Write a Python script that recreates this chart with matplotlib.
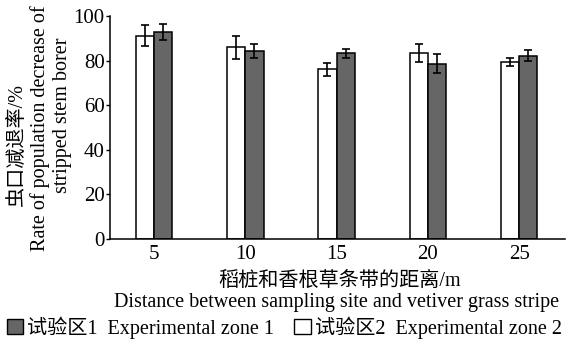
import numpy as np
import matplotlib.pyplot as plt
from matplotlib.patches import Patch

plt.rcParams['font.family'] = ['Liberation Serif', 'Noto Sans CJK SC']
plt.rcParams['font.size'] = 14.5

distances = ['5', '10', '15', '20', '25']
zone1 = [92.8, 84.4, 83.3, 78.7, 82.2]
zone1_err = [3.6, 3.3, 1.9, 4.2, 2.4]
zone2 = [91.2, 86.0, 76.1, 83.3, 79.4]
zone2_err = [4.6, 5.3, 2.9, 4.0, 1.8]

x = np.arange(len(distances))
w = 0.2

fig = plt.figure(figsize=(5.71, 3.43), dpi=100)
ax = fig.add_axes([0.193, 0.303, 0.796, 0.65])

err_kw = dict(ecolor='black', elinewidth=1.2, capsize=3, capthick=1.2)
ax.bar(x - w / 2, zone2, w, yerr=zone2_err, color='white', edgecolor='black',
       linewidth=1.1, error_kw=err_kw)
ax.bar(x + w / 2, zone1, w, yerr=zone1_err, color='#666666', edgecolor='black',
       linewidth=1.1, error_kw=err_kw)

ax.set_xlim(-0.48, 4.5)
ax.set_ylim(0, 100)
ax.set_yticks(range(0, 101, 20))
ax.set_xticks(x)
ax.set_xticklabels(distances)
ax.tick_params(axis='x', length=0, pad=4, labelsize=15)
ax.tick_params(axis='y', length=3, width=1, pad=1, labelsize=15)
ax.spines['top'].set_visible(False)
ax.spines['right'].set_visible(False)
for s in ['left', 'bottom']:
    ax.spines[s].set_linewidth(1.1)

fig.text(0.031, 0.58, '虫口减退率/%', rotation=90, ha='center', va='center', fontsize=14.5)
fig.text(0.07, 0.627, 'Rate of population decrease of', rotation=90, ha='center', va='center', fontsize=14.5)
fig.text(0.11, 0.665, 'stripped stem borer', rotation=90, ha='center', va='center', fontsize=14.5)

fig.text(0.594, 0.18, '稻桩和香根草条带的距离/m', ha='center', va='center', fontsize=14.5)
fig.text(0.59, 0.118, 'Distance between sampling site and vetiver grass stripe', ha='center', va='center', fontsize=14.5)

handles = [Patch(facecolor='#666666', edgecolor='black'),
           Patch(facecolor='white', edgecolor='black')]
labels = ['试验区1  Experimental zone 1', '试验区2  Experimental zone 2']
fig.legend(handles, labels, loc='center', bbox_to_anchor=(0.498, 0.045), ncol=2,
           frameon=False, fontsize=14.5, handlelength=0.8, handleheight=0.8,
           handletextpad=0.2, columnspacing=1.0, borderaxespad=0)

fig.savefig('out.png', dpi=100)
